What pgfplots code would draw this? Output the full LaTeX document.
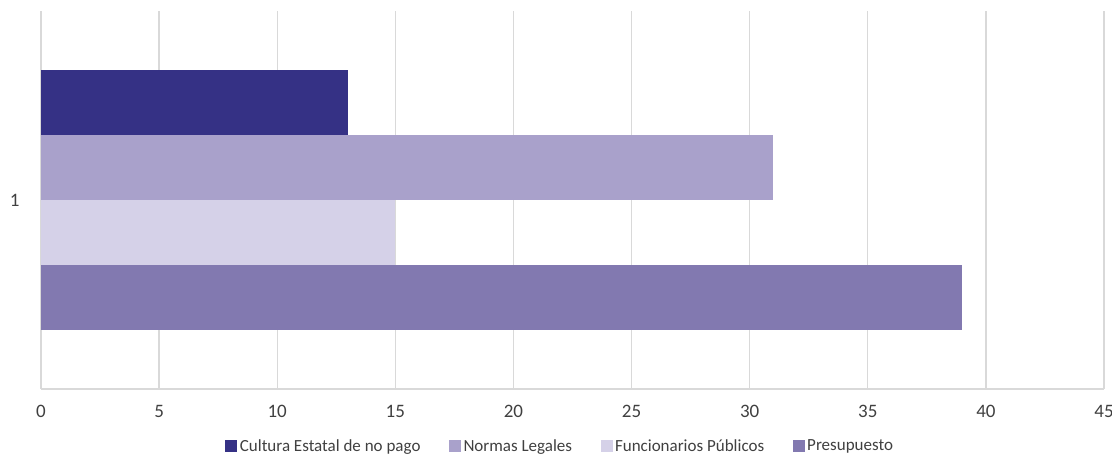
\documentclass[border=0pt]{standalone}
\usepackage{pgfplots}
\pgfplotsset{compat=1.18}
\usepackage{fontspec}
\setmainfont{Carlito}
\definecolor{c1}{HTML}{353185}
\definecolor{c2}{HTML}{A9A1CB}
\definecolor{c3}{HTML}{D5D1E8}
\definecolor{c4}{HTML}{8279B0}
\definecolor{gridgray}{HTML}{D9D9D9}
\definecolor{txt}{HTML}{404040}
\begin{document}
\begin{tikzpicture}
\begin{axis}[
  at={(0,0)}, anchor=south west,
  scale only axis, width=1063pt, height=378pt,
  xmin=0, xmax=45, ymin=0.5, ymax=1.5,
  xtick={0,5,...,45}, ytick={1},
  xmajorgrids, grid style={draw=gridgray, line width=1.3pt},
  axis x line*=bottom, axis y line*=left,
  y axis line style={draw=none},
  x axis line style={draw=gridgray, line width=1.3pt},
  major tick length=0pt,
  /pgf/number format/assume math mode=true,
  ticklabel style={font=\fontsize{19}{22}\selectfont, text=txt},
  xticklabel style={yshift=-13pt},
  yticklabel style={xshift=-18pt},
  xbar, bar width=65pt,
  legend columns=4,
  legend style={at={(0.4887,-0.151)}, anchor=center, draw=none,
    font=\fontsize{17}{20}\selectfont, text=txt,
    /tikz/every even column/.append style={column sep=26pt},
    nodes={inner sep=2.5pt}},
  legend image code/.code={\fill[#1] (0pt,-6pt) rectangle (12pt,6pt);},
]
\addplot[fill=c1, draw=none, bar shift=97.5pt] coordinates {(13,1)};
\addplot[fill=c2, draw=none, bar shift=32.5pt] coordinates {(31,1)};
\addplot[fill=c3, draw=none, bar shift=-32.5pt] coordinates {(15,1)};
\addplot[fill=c4, draw=none, bar shift=-97.5pt] coordinates {(39,1)};
\legend{Cultura Estatal de no pago, Normas Legales, Funcionarios Públicos, Presupuesto}
\end{axis}
\pgfresetboundingbox
\path (-41pt,-65pt) rectangle (1071pt,389pt);
\end{tikzpicture}
\end{document}
